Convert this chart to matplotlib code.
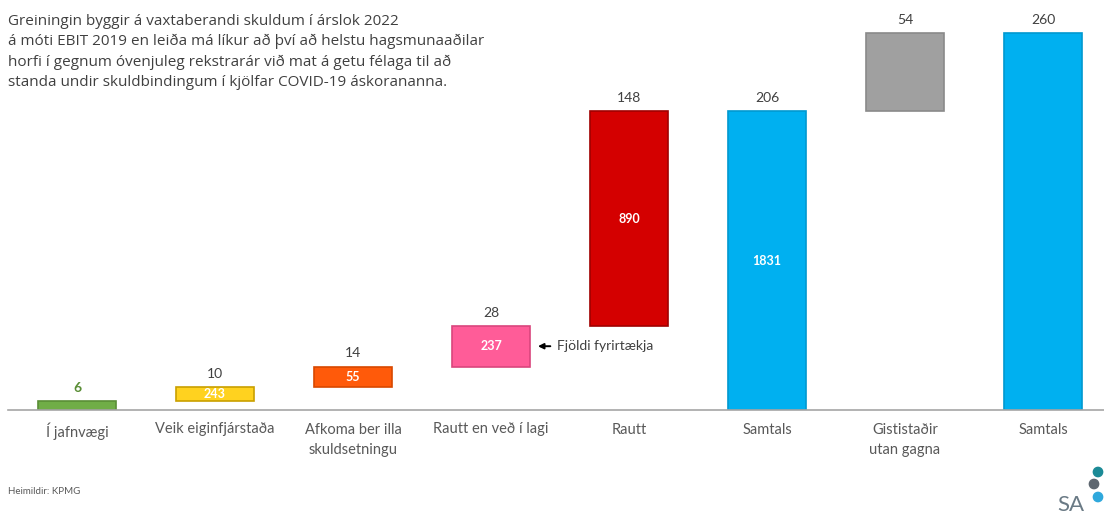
import matplotlib.pyplot as plt


# =========================
# Data
# =========================

categories = [
    "Í jafnvægi",
    "Veik eiginfjárstaða",
    "Afkoma ber illa\nskuldsetningu",
    "Rautt en veð í lagi",
    "Rautt",
    "Samtals",
    "Gististaðir\nutan gagna",
    "Samtals",
]
values = [6, 10, 14, 28, 148, 206, 54, 260]
is_total = [False, False, False, False, False, True, False, True]
company_counts = ["", "243", "55", "237", "890", "1831", "", ""]

bar_colors = ["#70AD47", "#FFD21F", "#FF5A0A", "#FF5C98", "#D40000", "#00B0F0", "#A0A0A0", "#00B0F0"]
edge_colors = ["#5A8E36", "#C9A000", "#D84800", "#D9467D", "#A00000", "#0098D0", "#8A8A8A", "#0098D0"]

note = (
    "Greiningin byggir á vaxtaberandi skuldum í árslok 2022\n"
    "á móti EBIT 2019 en leiða má líkur að því að helstu hagsmunaaðilar\n"
    "horfi í gegnum óvenjuleg rekstrarár við mat á getu félaga til að\n"
    "standa undir skuldbindingum í kjölfar COVID-19 áskorananna."
)


# =========================
# Waterfall positions
# =========================

bottoms = []
running = 0
for v, total in zip(values, is_total):
    if total:
        bottoms.append(0)
    else:
        bottoms.append(running)
        running += v


# =========================
# Chart
# =========================

plt.rcParams["font.family"] = ["Lato", "DejaVu Sans"]

W, H = 1104, 518
fig = plt.figure(figsize=(W / 100, H / 100), dpi=100)
fig.patch.set_facecolor("white")
ax = fig.add_axes([8 / W, 1 - 410 / H, 1 - 8 / W, 410 / H])

x = list(range(len(categories)))
bars = ax.bar(
    x,
    values,
    bottom=bottoms,
    width=0.56,
    color=bar_colors,
    edgecolor=edge_colors,
    linewidth=1.2,
)

ax.set_xlim(-0.5, 7.442)
ax.set_ylim(0, 282.8)

for side in ["top", "right", "left"]:
    ax.spines[side].set_visible(False)
ax.spines["bottom"].set_color("#A6A6A6")
ax.spines["bottom"].set_linewidth(1.2)
ax.set_yticks([])
ax.set_xticks(x)
ax.set_xticklabels(categories, fontsize=10.5, color="#595959", linespacing=1.6)
ax.tick_params(axis="x", length=0, pad=9)

# Value labels above bars and counts inside
for i, bar in enumerate(bars):
    top = bottoms[i] + values[i]
    ax.text(
        bar.get_x() + bar.get_width() / 2,
        top + 5,
        str(values[i]),
        ha="center",
        va="bottom",
        fontsize=10,
        fontweight="bold" if i == 0 else "normal",
        color="#5A8E36" if i == 0 else "#404040",
    )
    if company_counts[i]:
        ax.text(
            bar.get_x() + bar.get_width() / 2,
            bottoms[i] + values[i] / 2,
            company_counts[i],
            ha="center",
            va="center",
            fontsize=9,
            fontweight="bold",
            color="white",
        )

# Arrow note next to pink bar
mid_pink = bottoms[3] + values[3] / 2
ax.annotate(
    "",
    xy=(3.32, mid_pink),
    xytext=(3.45, mid_pink),
    arrowprops=dict(arrowstyle="-|>", color="black", lw=1.4, mutation_scale=8),
)
ax.text(3.48, mid_pink, "Fjöldi fyrirtækja", ha="left", va="center",
        fontsize=10, color="#404040")


# =========================
# Note, source and logo
# =========================

fig.text(
    8 / W,
    1 - 14 / H,
    note,
    ha="left",
    va="top",
    fontsize=11,
    family=["Open Sans", "DejaVu Sans"],
    color="#404040",
    linespacing=1.45,
)

fig.text(8 / W, 1 - 492 / H, "Heimildir: KPMG", ha="left", va="center",
         fontsize=7, color="#595959")

fig.text(1057 / W, 1 - 505 / H, "SA", ha="left", va="center",
         fontsize=16, color="#6A7A85")
ax.scatter(
    [1098 / W, 1094 / W, 1098 / W],
    [1 - 472 / H, 1 - 484 / H, 1 - 497 / H],
    s=45,
    color=["#1B8A96", "#5E6770", "#2FA8DC"],
    transform=fig.transFigure,
    clip_on=False,
    zorder=5,
)


# =========================
# Save
# =========================

plt.savefig("out.png", dpi=100)
